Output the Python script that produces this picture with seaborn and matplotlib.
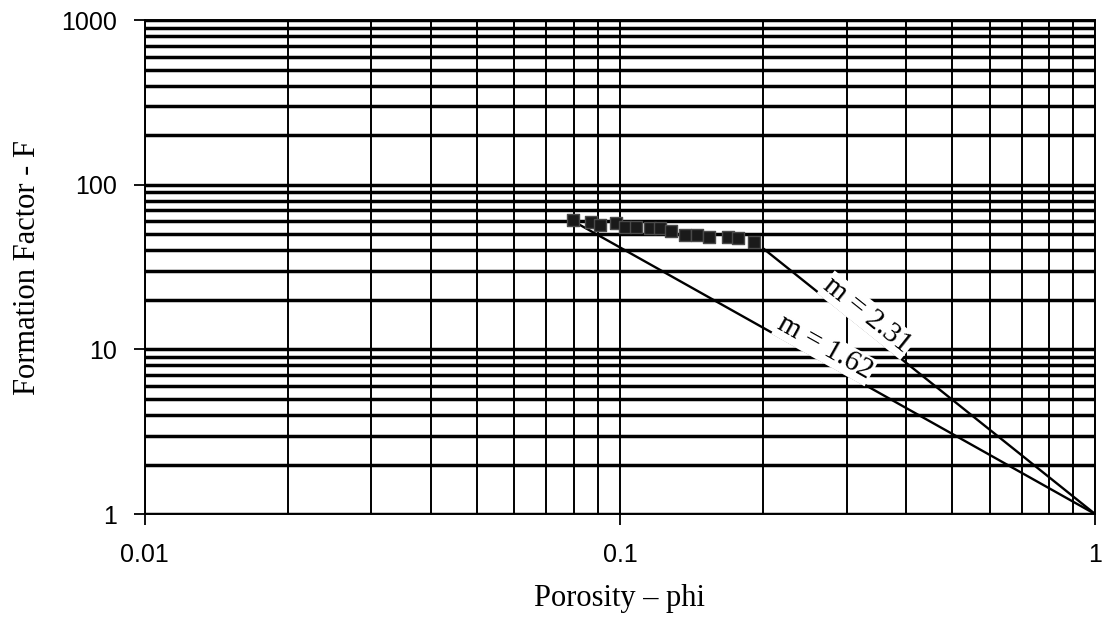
import numpy as np
import pandas as pd
import matplotlib
matplotlib.use("Agg")
import matplotlib.pyplot as plt
from matplotlib.ticker import LogLocator, FuncFormatter, NullFormatter
import seaborn as sns

# Measured core samples: porosity and formation factor
porosity = [0.0795, 0.0868, 0.0906, 0.098, 0.1025, 0.108, 0.1157, 0.1214,
            0.1283, 0.137, 0.1452, 0.1543, 0.169, 0.1774, 0.1917]
formation_factor = [61.0, 59.3, 56.9, 58.3, 55.3, 55.3, 55.0, 54.8,
                    52.6, 49.3, 49.3, 48.0, 48.0, 47.5, 44.7]

# Archie cementation exponents and the porosity where each trend line starts
m_values = [2.31, 1.62]
phi_start = [0.2, 0.08]
label_phi = [0.262, 0.21]

sns.set_theme(style="white")
plt.rcParams["font.family"] = ["Liberation Sans", "DejaVu Sans"]

fig, ax = plt.subplots(figsize=(11.04, 6.3), dpi=100)
fig.subplots_adjust(left=0.131, right=0.992, top=0.968, bottom=0.184)

ax.set_xscale("log")
ax.set_yscale("log")
ax.set_xlim(0.01, 1)
ax.set_ylim(1, 1000)

# Archie trend lines F = phi^-m from each start porosity to phi = 1
lines = []
for m, p0 in zip(m_values, phi_start):
    ph = np.array([p0, 1.0])
    lines.append(pd.DataFrame({"phi": ph, "F": ph ** (-m), "m": f"{m:.2f}"}))
lines_df = pd.concat(lines, ignore_index=True)
sns.lineplot(data=lines_df, x="phi", y="F", units="m", estimator=None,
             color="black", lw=1.7, ax=ax, zorder=3, legend=False)

pts = pd.DataFrame({"phi": porosity, "F": formation_factor})
sns.scatterplot(data=pts, x="phi", y="F", marker="s", s=85, color="#1a1a1a",
                edgecolor="#4a4a4a", linewidth=1.0, ax=ax, zorder=4, legend=False)

# Grid: every decade subdivision drawn, horizontal rules heavier
ax.xaxis.set_major_locator(LogLocator(base=10))
ax.yaxis.set_major_locator(LogLocator(base=10))
ax.xaxis.set_minor_locator(LogLocator(base=10, subs=range(2, 10)))
ax.yaxis.set_minor_locator(LogLocator(base=10, subs=range(2, 10)))
ax.xaxis.set_minor_formatter(NullFormatter())
ax.yaxis.set_minor_formatter(NullFormatter())
fmt = FuncFormatter(lambda v, _: f"{v:g}")
ax.xaxis.set_major_formatter(fmt)
ax.yaxis.set_major_formatter(fmt)
ax.set_axisbelow(True)
ax.grid(which="both", axis="x", color="black", lw=1.4)
ax.grid(which="both", axis="y", color="black", lw=2.5)

ax.tick_params(which="major", direction="out", length=8, width=1.3,
               color="black", labelsize=18, labelcolor="black",
               bottom=True, left=True)
ax.tick_params(axis="y", which="major", pad=12)
ax.tick_params(axis="x", which="major", pad=13)
ax.tick_params(which="minor", length=0)
for s in ax.spines.values():
    s.set_color("black")
    s.set_linewidth(1.4)

ax.set_xlabel("Porosity – phi", family=["Liberation Serif", "DejaVu Serif"],
              fontsize=22, labelpad=12, color="black")
ax.set_ylabel("Formation Factor - F", family=["Liberation Serif", "DejaVu Serif"],
              fontsize=22, labelpad=14, color="black")

# Exponent labels laid along their trend lines
fig.canvas.draw()
for m, lp in zip(m_values, label_phi):
    a = ax.transData.transform((lp, lp ** (-m)))
    b = ax.transData.transform((1.0, 1.0))
    ang = np.degrees(np.arctan2(b[1] - a[1], b[0] - a[0]))
    ax.text(lp, lp ** (-m), f"m = {m:.2f}", rotation=ang, rotation_mode="anchor",
            ha="left", va="bottom", fontsize=21,
            family=["Liberation Serif", "DejaVu Serif"], color="black", zorder=5,
            bbox=dict(boxstyle="square,pad=0.05", fc="white", ec="none"))

fig.savefig("out.png", dpi=100, facecolor="white")
